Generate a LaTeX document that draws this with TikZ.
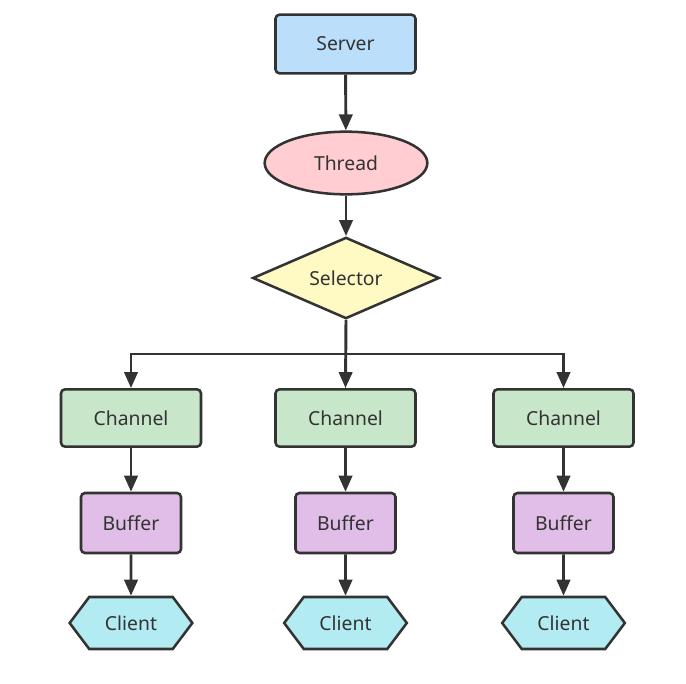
\documentclass[tikz,border=0pt]{standalone}
\usepackage{fontspec}
\setmainfont{Noto Sans}
\usepackage{xcolor}
\usepackage{tikz}
\usetikzlibrary{arrows.meta,positioning,shapes.geometric,shapes.symbols}
\definecolor{srvblue}{HTML}{BBDEFB}
\definecolor{thrpink}{HTML}{FFCDD2}
\definecolor{selyellow}{HTML}{FFF9C4}
\definecolor{chgreen}{HTML}{C8E6C9}
\definecolor{bufpurple}{HTML}{E1BEE7}
\definecolor{clicyan}{HTML}{B2EBF2}
\definecolor{inkgray}{HTML}{333333}

\tikzset{
  box/.style={draw=inkgray,line width=1.9pt,rounded corners=3pt,text=inkgray},
  srvbox/.style={box,fill=srvblue,minimum width=105pt,minimum height=44pt},
  chbox/.style={box,fill=chgreen,minimum width=105pt,minimum height=43pt},
  bufbox/.style={box,fill=bufpurple,minimum width=75pt,minimum height=45pt},
  thrbox/.style={draw=inkgray,line width=1.9pt,ellipse,fill=thrpink,text=inkgray,
    minimum width=122pt,minimum height=47pt,inner sep=0pt},
  selbox/.style={draw=inkgray,line width=1.9pt,diamond,fill=selyellow,text=inkgray,
    minimum width=140pt,minimum height=61pt,inner sep=0pt,aspect=2.2},
  clibox/.style={draw=inkgray,line width=1.9pt,signal,signal to=west and east,
    signal pointer angle=106,fill=clicyan,text=inkgray,
    minimum width=92pt,minimum height=39pt,inner sep=1pt},
  flow/.style={draw=inkgray,line width=2.2pt,-{Triangle[length=12pt,width=10pt]}}
}

\begin{document}
\begin{tikzpicture}[x=0.75pt,y=-0.75pt,font=\fontsize{14.5}{17}\selectfont]
  \useasboundingbox (0,0) rectangle (686,683);

  \node[srvbox] (server) at (345.5,44) {Server};
  \node[thrbox] (thread) at (346,163) {Thread};
  \node[selbox] (selector) at (346,278) {Selector};
  \coordinate (fork) at (346,354);

  % three channel columns
  \node[chbox] (ch1) at (131,418) {Channel};
  \node[chbox] (ch2) at (345.5,418) {Channel};
  \node[chbox] (ch3) at (563.5,418) {Channel};

  \node[bufbox] (buf1) at (131,523) {Buffer};
  \node[bufbox] (buf2) at (345.5,523) {Buffer};
  \node[bufbox] (buf3) at (563.5,523) {Buffer};

  \node[clibox] (cli1) at (131,623) {Client};
  \node[clibox] (cli2) at (345.5,623) {Client};
  \node[clibox] (cli3) at (563.5,623) {Client};

  \draw[flow] (server) -- (thread);
  \draw[flow] (thread) -- (selector);
  \draw[flow] (selector.south) -- (ch2.north);
  \draw[flow] (selector.south) -- (fork) -| (ch1.north);
  \draw[flow] (fork) -| (ch3.north);

  \draw[flow] (ch1) -- (buf1);
  \draw[flow] (ch2) -- (buf2);
  \draw[flow] (ch3) -- (buf3);
  \draw[flow] (buf1) -- (cli1);
  \draw[flow] (buf2) -- (cli2);
  \draw[flow] (buf3) -- (cli3);
\end{tikzpicture}
\end{document}
